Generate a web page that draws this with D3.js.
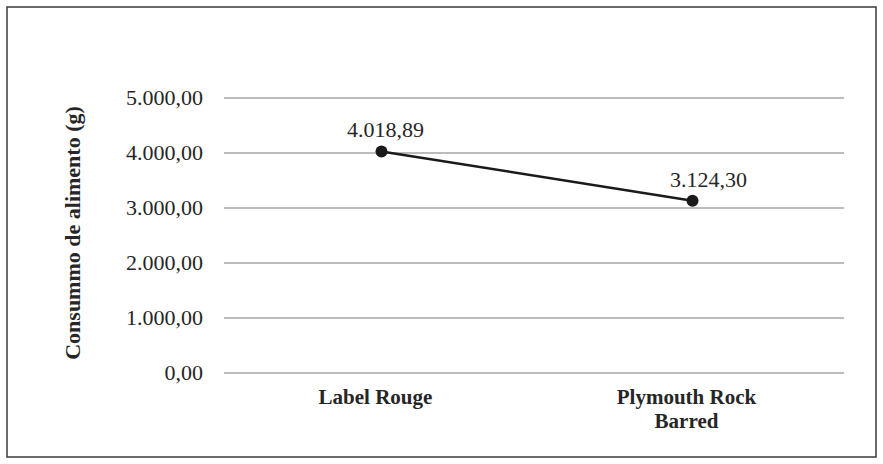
<!DOCTYPE html>
<html>
<head>
<meta charset="utf-8">
<script src="https://cdn.jsdelivr.net/npm/d3@7"></script>
<style>
  html, body { margin: 0; padding: 0; background: #fff; }
  svg { display: block; }
  text { font-family: "Liberation Serif", "DejaVu Serif", serif; fill: #262626; }
</style>
</head>
<body>
<svg id="chart" width="883" height="464"></svg>
<script>
const categories = ["Label Rouge", "Plymouth Rock Barred"];
const categoryLines = [["Label Rouge"], ["Plymouth Rock", "Barred"]];
const values = [4018.89, 3124.30];
const valueLabels = ["4.018,89", "3.124,30"];
const yTicks = [0, 1000, 2000, 3000, 4000, 5000];
const yTickLabels = ["0,00", "1.000,00", "2.000,00", "3.000,00", "4.000,00", "5.000,00"];
const yTitle = "Consummo de alimento (g)";

const FONT = '"Liberation Serif", "DejaVu Serif", serif';
const svg = d3.select("#chart");
const W = 883, H = 464;

svg.append("rect")
  .attr("x", 7).attr("y", 7).attr("width", W - 14).attr("height", H - 14)
  .attr("fill", "#fff").attr("stroke", "#3a3a3a").attr("stroke-width", 1.5);

const plot = { left: 224, right: 844, top: 97.5, bottom: 372.5 };

const y = d3.scaleLinear().domain([0, 5000]).range([plot.bottom, plot.top]);
const x = d3.scaleBand().domain(categories).range([plot.left + 2, plot.right + 4]);

const yAxis = d3.axisLeft(y).tickValues(yTicks)
  .tickSize(-(plot.right - plot.left))
  .tickPadding(21)
  .tickFormat((d, i) => yTickLabels[i]);
const gy = svg.append("g").attr("transform", `translate(${plot.left},0)`).call(yAxis);
gy.attr("font-family", null).attr("font-size", null);
gy.select(".domain").remove();
gy.selectAll(".tick line").attr("stroke", "#a6a6a6").attr("stroke-width", 1.5);
gy.selectAll(".tick text")
  .style("font-family", FONT)
  .style("font-size", "22px")
  .attr("fill", "#262626")
  .attr("dy", "0.3em");

const xg = svg.append("g");
categories.forEach((c, i) => {
  const cxv = x(c) + x.bandwidth() / 2 - 6;
  const t = xg.append("text")
    .attr("x", cxv)
    .attr("y", 404)
    .attr("text-anchor", "middle")
    .style("font-family", FONT)
    .style("font-size", "21px")
    .style("font-weight", "bold");
  categoryLines[i].forEach((ln, j) => {
    t.append("tspan").attr("x", cxv).attr("dy", j === 0 ? 0 : 24).text(ln);
  });
});

svg.append("text")
  .attr("transform", `translate(80,${(plot.top + plot.bottom) / 2 - 2}) rotate(-90)`)
  .attr("text-anchor", "middle")
  .style("font-family", FONT)
  .style("font-size", "22px")
  .style("font-weight", "bold")
  .text(yTitle);

const cx = (c) => x(c) + x.bandwidth() / 2;
const line = d3.line().x((d, i) => cx(categories[i])).y(d => y(d));
svg.append("path")
  .datum(values)
  .attr("d", line)
  .attr("fill", "none")
  .attr("stroke", "#1a1a1a")
  .attr("stroke-width", 2.5);

svg.selectAll("circle.pt")
  .data(values)
  .enter().append("circle")
  .attr("class", "pt")
  .attr("cx", (d, i) => cx(categories[i]))
  .attr("cy", d => y(d))
  .attr("r", 6)
  .attr("fill", "#1a1a1a");

const labelDx = [4, 16];
svg.selectAll("text.vl")
  .data(values)
  .enter().append("text")
  .attr("class", "vl")
  .attr("x", (d, i) => cx(categories[i]) + labelDx[i])
  .attr("y", d => y(d) - 14)
  .attr("text-anchor", "middle")
  .style("font-family", FONT)
  .style("font-size", "22px")
  .text((d, i) => valueLabels[i]);
</script>
</body>
</html>
